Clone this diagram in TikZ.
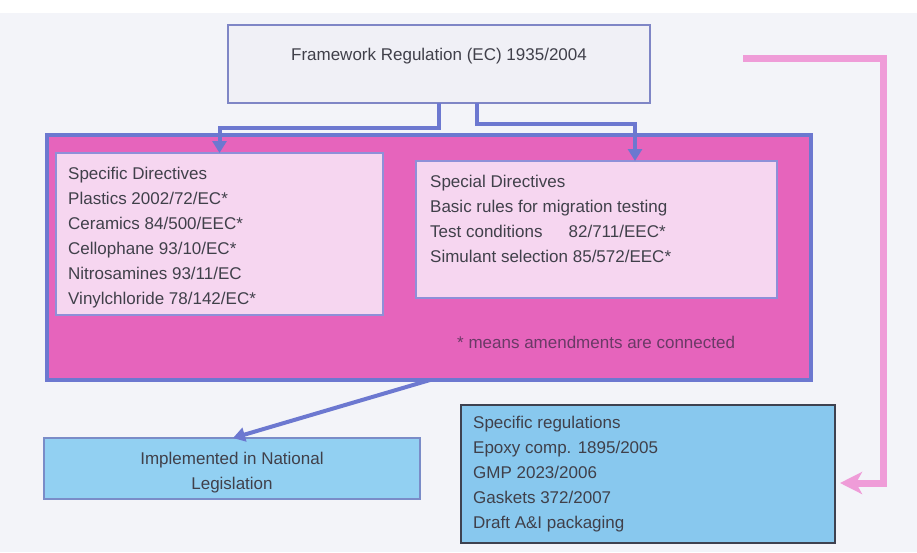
\documentclass[tikz,border=0pt]{standalone}
\usepackage{fontspec}
\setmainfont{Liberation Sans}
\usetikzlibrary{arrows.meta}
\definecolor{pagebg}{HTML}{F3F4F9}
\definecolor{fwfill}{HTML}{F0F0F6}
\definecolor{fwline}{HTML}{7F86C6}
\definecolor{magbox}{HTML}{E664BC}
\definecolor{blueline}{HTML}{6C78D0}
\definecolor{lightpink}{HTML}{F6D6F0}
\definecolor{innerline}{HTML}{8E90D8}
\definecolor{natfill}{HTML}{92D0F2}
\definecolor{natline}{HTML}{7A8CC8}
\definecolor{regfill}{HTML}{88C8EE}
\definecolor{regline}{HTML}{3E4250}
\definecolor{pinkarrow}{HTML}{EF9CD8}
\definecolor{txt}{HTML}{40404A}
\definecolor{notetxt}{HTML}{6A3A66}
\tikzset{
  box/.style={rectangle, inner sep=0pt, outer sep=0pt},
  txtstyle/.style={inner sep=0pt, text=txt, font=\fontsize{17}{25}\selectfont},
  conn/.style={draw=blueline, line width=4pt, -{Triangle[length=12pt,width=14pt]}},
  pconn/.style={draw=pinkarrow, line width=7pt, -{Stealth[length=22pt,width=22pt,inset=6pt]}}
}
\begin{document}
\begin{tikzpicture}[x=1pt,y=-1pt]
\useasboundingbox (0,0) rectangle (917,552);
\fill[white] (0,0) rectangle (917,552);
\fill[pagebg] (0,13) rectangle (917,552);

% boxes
\node[box, fill=fwfill, draw=fwline, line width=1.5pt, minimum width=422pt, minimum height=78pt] (fw) at (439,64) {};
\node[txtstyle] (fwtext) at (439,56) {Framework Regulation (EC) 1935/2004};

\node[box, fill=magbox, draw=blueline, line width=4pt, minimum width=764pt, minimum height=245pt] (outer) at (429,257.5) {};

\node[box, fill=lightpink, draw=innerline, line width=2pt, minimum width=327pt, minimum height=162pt] (sd) at (219.5,234) {};
\node[txtstyle, align=left, anchor=north west] (sdtext) at (68,167) {Specific Directives\\Plastics 2002/72/EC*\\Ceramics 84/500/EEC*\\Cellophane 93/10/EC*\\Nitrosamines 93/11/EC\\Vinylchloride 78/142/EC*};

\node[box, fill=lightpink, draw=innerline, line width=2pt, minimum width=361pt, minimum height=137pt] (sp) at (596.5,229.5) {};
\node[txtstyle, align=left, anchor=north west] (sptext) at (430,175) {Special Directives\\Basic rules for migration testing\\Test conditions\hspace{26pt}82/711/EEC*\\Simulant selection 85/572/EEC*};

\node[txtstyle, text=notetxt, anchor=base west] (note) at (457,348) {* means amendments are connected};

\node[box, fill=natfill, draw=natline, line width=1.2pt, minimum width=376pt, minimum height=61pt] (nat) at (232,468.5) {};
\node[txtstyle, align=center, anchor=north] (nattext) at (232,452) {Implemented in National\\Legislation};

\node[box, fill=regfill, draw=regline, line width=2pt, minimum width=374pt, minimum height=138pt] (reg) at (648,474) {};
\node[txtstyle, align=left, anchor=north west] (regtext) at (473,416) {Specific regulations\\Epoxy comp. 1895/2005\\GMP 2023/2006\\Gaskets 372/2007\\Draft A\&I packaging};

% connectors
\draw[conn] (fw.south) -- ++(0,25) -| (sd.north);
\draw[conn] ([xshift=38pt]fw.south) -- ++(0,21) -| ([xshift=38.5pt]sp.north);
\draw[conn] ([xshift=1pt]outer.south) -- ([xshift=1pt]nat.north);

\coordinate (pstart) at (743,58);
\draw[pconn, shorten >=5pt] (pstart) -- ++(140,0) |- ([yshift=-9pt]reg.east);
\end{tikzpicture}
\end{document}
